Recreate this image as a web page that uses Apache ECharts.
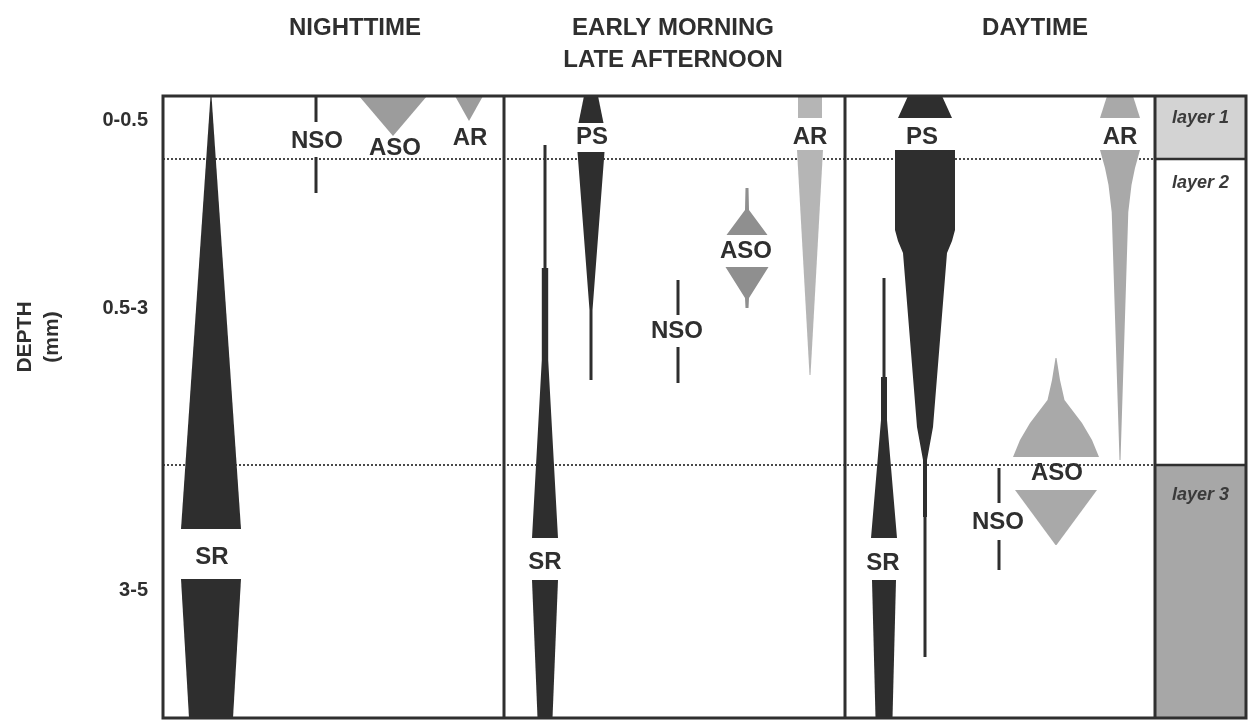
<!DOCTYPE html>
<html>
<head>
<meta charset="utf-8">
<script src="https://cdn.jsdelivr.net/npm/echarts@6/dist/echarts.min.js"></script>
<style>
  html, body { margin: 0; padding: 0; background: #ffffff; }
  #chart { width: 1258px; height: 722px; }
</style>
</head>
<body>
<div id="chart"></div>
<script>
// Column headings (one entry per panel, one string per text line)
const HEADINGS = [['NIGHTTIME'], ['EARLY MORNING', 'LATE AFTERNOON'], ['DAYTIME']];

// Depth ranges (mm) along the left side and where each sits on the depth scale
const DEPTH_LABELS = ['0-0.5', '0.5-3', '3-5'];
const DEPTH_LABEL_AT = [24, 212, 494];

// Mat layers and their boundaries on the depth scale (0 = surface)
const LAYER_NAMES = ['layer 1', 'layer 2', 'layer 3'];
const LAYER_BOUNDS = [0, 63, 369, 622];
const LAYER_NAME_AT = [22, 87, 399];

// Vertical borders between the panels on the horizontal scale
const PANEL_EDGES = [0, 341, 682, 992, 1083];

// Vertical distribution profiles, each a list of segments of [depth, half-width]
// Nighttime
const NIGHT_SR  = [[[0, 0.5], [433, 30]], [[483, 30], [622, 22]]];
const NIGHT_NSO = [[[0, 1.5], [26, 1.5]], [[61, 1.5], [97, 1.5]]];
const NIGHT_ASO = [[[0, 34], [40, 0]]];
const NIGHT_AR  = [[[0, 14], [25, 0]]];
// Early morning / late afternoon
const EARLY_SR  = [[[49, 1.5], [172, 1.5], [172, 3.2], [264, 3.2], [442, 13]], [[484, 13], [622, 7.5]]];
const EARLY_PS  = [[[0, 7], [27, 12.5]], [[56, 13.5], [214, 1.5], [284, 1.5]]];
const EARLY_ASO = [[[92, 1.5], [114, 2], [139, 20.5]], [[171, 21.5], [202, 2], [212, 1.5]]];
const EARLY_NSO = [[[184, 1.5], [219, 1.5]], [[251, 1.5], [287, 1.5]]];
const EARLY_AR  = [[[0, 12], [22, 12]], [[54, 13], [279, 0.5]]];
// Daytime
const DAY_PS  = [[[0, 17], [22, 27]], [[54, 30], [134, 30], [145, 27], [157, 22], [331, 8], [364, 2], [421, 2], [421, 1.5], [561, 1.5]]];
const DAY_SR  = [[[182, 1.5], [281, 1.5], [281, 3], [324, 3], [442, 13]], [[484, 12], [622, 8.5]]];
const DAY_AR  = [[[0, 13], [22, 20]], [[54, 20], [72, 15], [89, 11.5], [116, 8.3], [364, 0.5]]];
const DAY_ASO = [[[262, 0.5], [284, 4], [304, 8.5], [327, 26], [344, 36], [361, 43]], [[394, 41], [449, 0.5]]];
const DAY_NSO = [[[372, 1.5], [407, 1.5]], [[444, 1.5], [474, 1.5]]];

// Fill tones
const TONES = {
  dark: '#2e2e2e',
  gray: '#9c9c9c',
  grayDeep: '#8f8f8f',
  grayLight: '#b5b5b5',
  grayMid: '#a9a9a9'
};

// Placement of each profile: name, profile, centre line, tone, label position
const GROUPS = [
  { name: 'SR',  profile: NIGHT_SR,  x: 48,  tone: 'dark',      label: [49, 461] },
  { name: 'NSO', profile: NIGHT_NSO, x: 153, tone: 'dark',      label: [154, 45] },
  { name: 'ASO', profile: NIGHT_ASO, x: 230, tone: 'gray',      label: [232, 52] },
  { name: 'AR',  profile: NIGHT_AR,  x: 306, tone: 'gray',      label: [307, 42] },
  { name: 'SR',  profile: EARLY_SR,  x: 382, tone: 'dark',      label: [382, 466] },
  { name: 'PS',  profile: EARLY_PS,  x: 428, tone: 'dark',      label: [429, 41] },
  { name: 'ASO', profile: EARLY_ASO, x: 584, tone: 'grayDeep',  label: [583, 155] },
  { name: 'NSO', profile: EARLY_NSO, x: 515, tone: 'dark',      label: [514, 235] },
  { name: 'AR',  profile: EARLY_AR,  x: 647, tone: 'grayLight', label: [647, 41] },
  { name: 'PS',  profile: DAY_PS,    x: 762, tone: 'dark',      label: [759, 41] },
  { name: 'SR',  profile: DAY_SR,    x: 721, tone: 'dark',      label: [720, 467] },
  { name: 'AR',  profile: DAY_AR,    x: 957, tone: 'grayMid',   label: [957, 41] },
  { name: 'ASO', profile: DAY_ASO,   x: 893, tone: 'grayMid',   label: [894, 377] },
  { name: 'NSO', profile: DAY_NSO,   x: 836, tone: 'dark',      label: [835, 426] }
];

const INK = '#2f2f2f';
const FONT = '"Liberation Sans", Arial, Helvetica, sans-serif';
const HEADING_X = [192, 510, 872];

const chart = echarts.init(document.getElementById('chart'), null, { renderer: 'canvas' });

function textEl(x, y, text, opts) {
  return {
    type: 'text',
    x: x, y: y,
    rotation: opts.rotation || 0,
    style: Object.assign({
      text: text,
      fill: INK,
      fontFamily: FONT,
      fontWeight: 'bold',
      fontSize: 24,
      align: 'center',
      verticalAlign: 'middle'
    }, opts.style || {})
  };
}

// Layer shading in the right-hand column and the dotted layer boundaries
function renderBackground(params, api) {
  const children = [];
  const colLeft = PANEL_EDGES[3], colRight = PANEL_EDGES[4];
  const shade = ['#d3d3d3', null, '#a7a7a7'];
  for (let i = 0; i < LAYER_NAMES.length; i++) {
    const p0 = api.coord([colLeft, LAYER_BOUNDS[i]]);
    const p1 = api.coord([colRight, LAYER_BOUNDS[i + 1]]);
    if (shade[i]) {
      children.push({ type: 'rect', shape: { x: p0[0], y: p0[1], width: p1[0] - p0[0], height: p1[1] - p0[1] },
        style: { fill: shade[i] } });
    }
  }
  for (let i = 1; i < LAYER_BOUNDS.length - 1; i++) {
    const a = api.coord([PANEL_EDGES[0], LAYER_BOUNDS[i]]);
    const b = api.coord([colLeft, LAYER_BOUNDS[i]]);
    children.push({ type: 'line', shape: { x1: a[0], y1: a[1], x2: b[0], y2: b[1] },
      style: { stroke: '#4a4a4a', lineWidth: 2, lineDash: [2, 2] } });
    const c = api.coord([colRight, LAYER_BOUNDS[i]]);
    children.push({ type: 'line', shape: { x1: b[0], y1: b[1], x2: c[0], y2: c[1] },
      style: { stroke: INK, lineWidth: 2.5 } });
  }
  return { type: 'group', children: children };
}

// One profile: mirrored polygon around its centre line, one per segment
function renderProfile(params, api) {
  const g = GROUPS[params.dataIndex];
  const children = g.profile.map(function (seg) {
    const left = seg.map(function (p) { return api.coord([g.x - p[1], p[0]]); });
    const right = seg.slice().reverse().map(function (p) { return api.coord([g.x + p[1], p[0]]); });
    return { type: 'polygon', shape: { points: left.concat(right) }, style: { fill: TONES[g.tone] } };
  });
  return { type: 'group', children: children };
}

// Outer frame and panel dividers
function renderFrame(params, api) {
  const children = [];
  const top = LAYER_BOUNDS[0], bottom = LAYER_BOUNDS[LAYER_BOUNDS.length - 1];
  const tl = api.coord([PANEL_EDGES[0], top]);
  const br = api.coord([PANEL_EDGES[PANEL_EDGES.length - 1], bottom]);
  children.push({ type: 'rect', shape: { x: tl[0], y: tl[1], width: br[0] - tl[0], height: br[1] - tl[1] },
    style: { fill: null, stroke: INK, lineWidth: 3 } });
  for (let i = 1; i < PANEL_EDGES.length - 1; i++) {
    const a = api.coord([PANEL_EDGES[i], top]);
    const b = api.coord([PANEL_EDGES[i], bottom]);
    children.push({ type: 'line', shape: { x1: a[0], y1: a[1], x2: b[0], y2: b[1] },
      style: { stroke: INK, lineWidth: 3 } });
  }
  return { type: 'group', children: children };
}

// All text: headings, depth ranges, axis title, layer names, profile names
function renderText(params, api) {
  const children = [];
  HEADINGS.forEach(function (lines, i) {
    lines.forEach(function (line, k) {
      const p = api.coord([HEADING_X[i], -68 + 32 * k]);
      children.push(textEl(p[0], p[1], line, { style: { fontSize: 24 } }));
    });
  });
  DEPTH_LABELS.forEach(function (t, i) {
    const p = api.coord([-15, DEPTH_LABEL_AT[i]]);
    children.push(textEl(p[0], p[1], t, { style: { fontSize: 20, align: 'right' } }));
  });
  const axisP = api.coord([-124, 241]);
  children.push(textEl(axisP[0], axisP[1], 'DEPTH\n(mm)', { rotation: Math.PI / 2,
    style: { fontSize: 21, lineHeight: 27 } }));
  LAYER_NAMES.forEach(function (t, i) {
    const p = api.coord([(PANEL_EDGES[3] + PANEL_EDGES[4]) / 2, LAYER_NAME_AT[i]]);
    children.push(textEl(p[0], p[1], t, { style: { fontSize: 18, fontStyle: 'italic', fill: '#3a3a3a' } }));
  });
  GROUPS.forEach(function (g) {
    const p = api.coord(g.label);
    children.push(textEl(p[0], p[1], g.name, { style: { fontSize: 24 } }));
  });
  return { type: 'group', children: children };
}

chart.setOption({
  animation: false,
  backgroundColor: '#ffffff',
  grid: { left: 163, top: 96, width: 1083, height: 622, show: false },
  xAxis: { type: 'value', min: PANEL_EDGES[0], max: PANEL_EDGES[PANEL_EDGES.length - 1], show: false },
  yAxis: { type: 'value', min: LAYER_BOUNDS[0], max: LAYER_BOUNDS[LAYER_BOUNDS.length - 1], inverse: true, show: false },
  series: [
    { type: 'custom', name: 'layers', renderItem: renderBackground, data: [[0, 0]], silent: true, clip: false },
    { type: 'custom', name: 'profiles', renderItem: renderProfile, clip: false,
      data: GROUPS.map(function (g) { return [g.x, g.label[1]]; }) },
    { type: 'custom', name: 'frame', renderItem: renderFrame, data: [[0, 0]], silent: true, clip: false },
    { type: 'custom', name: 'text', renderItem: renderText, data: [[0, 0]], silent: true, clip: false }
  ]
});
</script>
</body>
</html>
